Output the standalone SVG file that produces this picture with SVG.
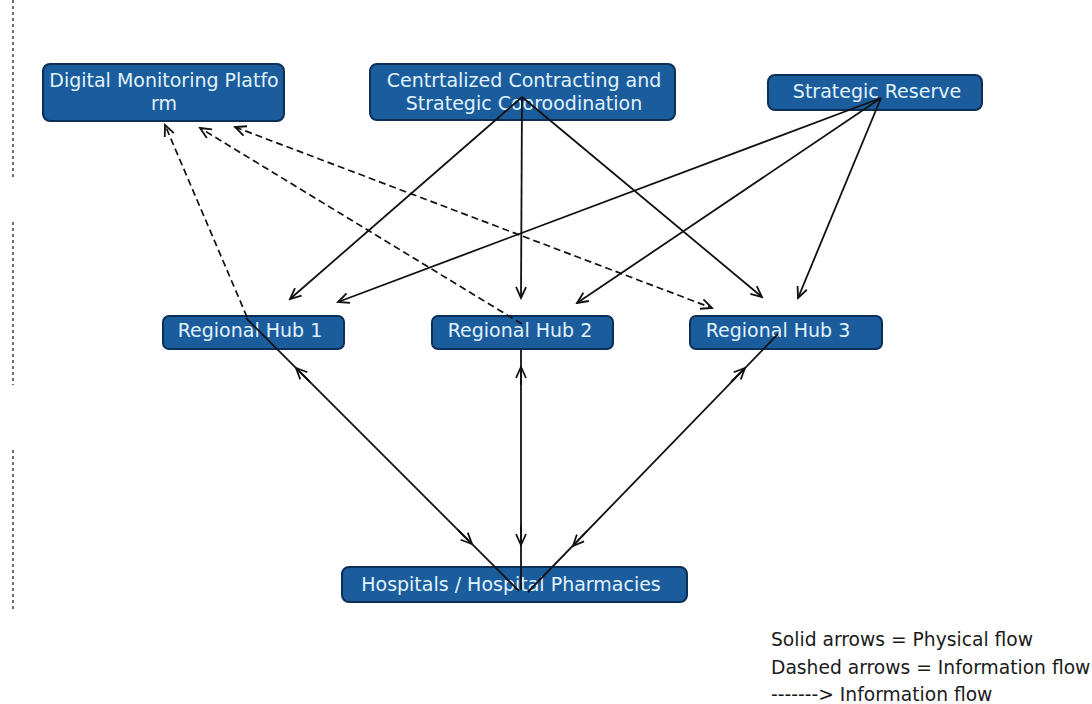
<svg xmlns="http://www.w3.org/2000/svg" width="1092" height="704" viewBox="0 0 1092 704">
<style>
.box{fill:#1b5c9c;stroke:#0c2f57;stroke-width:2}
.lbl{font-family:"DejaVu Sans",Verdana,sans-serif;font-size:19px;fill:#e0f3ff;text-anchor:middle}
.leg{font-family:"DejaVu Sans",Verdana,sans-serif;font-size:18.7px;fill:#1a1a1a}
.s{fill:none;stroke:#111;stroke-width:1.8}
.d{fill:none;stroke:#111;stroke-width:1.7;stroke-dasharray:7 4}
.edge{fill:none;stroke:#333;stroke-width:1.4;stroke-dasharray:3 3}
</style>
<defs>
<marker id="ah" markerUnits="userSpaceOnUse" markerWidth="14" markerHeight="12" refX="12" refY="6" orient="auto-start-reverse" viewBox="0 0 14 12">
<path d="M1,1 L12,6 L1,11" fill="none" stroke="#111" stroke-width="1.8"/>
</marker>
</defs>
<rect width="1092" height="704" fill="#ffffff"/>
<g id="edge-artifacts">
<line class="edge" x1="13" y1="0" x2="13" y2="180"/>
<line class="edge" x1="13" y1="222" x2="13" y2="385"/>
<line class="edge" x1="13" y1="450" x2="13" y2="612"/>
</g>
<g id="n-dmp">
<rect class="box" x="43" y="64" width="241" height="57" rx="7"/>
<text class="lbl" x="164" y="87">Digital Monitoring Platfo</text>
<text class="lbl" x="164" y="110">rm</text>
</g>
<g id="n-central">
<rect class="box" x="370" y="64" width="305" height="56" rx="7"/>
<text class="lbl" x="524" y="87">Centrtalized Contracting and</text>
<text class="lbl" x="524" y="110">Strategic Cooroodination</text>
</g>
<g id="n-reserve">
<rect class="box" x="768" y="75" width="214" height="35" rx="7"/>
<text class="lbl" x="877" y="98">Strategic Reserve</text>
</g>
<g id="n-hub1">
<rect class="box" x="163" y="316" width="181" height="33" rx="6"/>
<text class="lbl" x="250" y="337">Regional Hub 1</text>
</g>
<g id="n-hub2">
<rect class="box" x="432" y="316" width="181" height="33" rx="6"/>
<text class="lbl" x="520" y="337">Regional Hub 2</text>
</g>
<g id="n-hub3">
<rect class="box" x="690" y="316" width="192" height="33" rx="6"/>
<text class="lbl" x="778" y="337">Regional Hub 3</text>
</g>
<g id="n-hosp">
<rect class="box" x="342" y="567" width="345" height="35" rx="7"/>
<text class="lbl" x="511" y="591">Hospitals / Hospital Pharmacies</text>
</g>
<g id="connectors">
<path class="s" d="M522,97 L290,299" marker-end="url(#ah)"/>
<path class="s" d="M522,97 L521,298" marker-end="url(#ah)"/>
<path class="s" d="M522,97 L762,297" marker-end="url(#ah)"/>
<path class="s" d="M881,98 L338,302" marker-end="url(#ah)"/>
<path class="s" d="M881,98 L577,303" marker-end="url(#ah)"/>
<path class="s" d="M881,98 L798,298" marker-end="url(#ah)"/>
<path class="d" d="M247,317 L165,125" marker-end="url(#ah)"/>
<path class="d" d="M522,324 L200,128" marker-end="url(#ah)"/>
<path class="d" d="M235,127 L712,308" marker-start="url(#ah)" marker-end="url(#ah)"/>
<path class="s" d="M246,318 L519,591"/>
<path class="s" d="M310,382 L296,368" marker-end="url(#ah)"/>
<path class="s" d="M458,530 L472,544" marker-end="url(#ah)"/>
<path class="s" d="M521,350 L521,590"/>
<path class="s" d="M521,385 L521,367" marker-end="url(#ah)"/>
<path class="s" d="M521,525 L521,545" marker-end="url(#ah)"/>
<path class="s" d="M778,334 L528,592"/>
<path class="s" d="M731,382 L745,368" marker-end="url(#ah)"/>
<path class="s" d="M587,531 L573,546" marker-end="url(#ah)"/>
</g>
<g id="legend">
<text class="leg" x="771" y="646">Solid arrows = Physical flow</text>
<text class="leg" x="771" y="674">Dashed arrows = Information flow</text>
<text class="leg" x="771" y="701">-------&gt; Information flow</text>
</g>
</svg>
